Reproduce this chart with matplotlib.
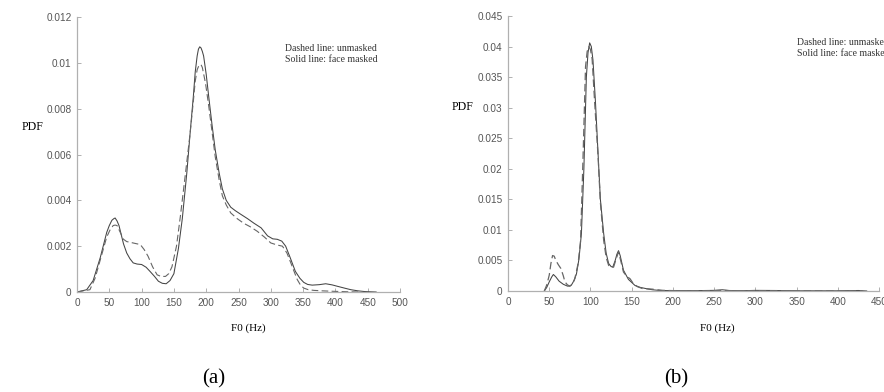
import numpy as np
import matplotlib.pyplot as plt

# (a) F0 distribution
a_solid_x = [0, 15, 25, 36, 46, 50, 54, 57, 59, 62, 65, 72, 77, 82, 87, 93, 100, 107, 113, 120, 126, 132, 138,
             144, 150, 157, 163, 170, 175, 180, 183, 186, 188, 190, 192, 194, 196, 200, 204, 209, 214, 220, 225,
             231, 238, 245, 253, 264, 274, 285, 295, 303, 310, 317, 323, 330, 338, 345, 351, 357, 364, 375, 385,
             395, 403, 414, 424, 435, 445, 463]
a_solid_y = [0, 0.0001, 0.0005, 0.0015, 0.0026, 0.0029, 0.00313, 0.0032, 0.00323, 0.0031, 0.0029, 0.0021,
             0.0017, 0.00145, 0.00127, 0.00122, 0.0012, 0.00108, 0.0009, 0.00068, 0.00047, 0.00038, 0.00036,
             0.0005, 0.0008, 0.0019, 0.0032, 0.0052, 0.0069, 0.0085, 0.0096, 0.0103, 0.0106, 0.0107, 0.01065,
             0.0105, 0.0103, 0.0095, 0.0085, 0.0073, 0.0062, 0.0052, 0.0045, 0.0040, 0.0037, 0.00355, 0.0034,
             0.0032, 0.0030, 0.0028, 0.00245, 0.00232, 0.0023, 0.00222, 0.0020, 0.0015, 0.0009, 0.0006, 0.00042,
             0.00033, 0.0003, 0.00032, 0.00036, 0.00031, 0.00025, 0.00017, 0.0001, 0.00005, 0.00002, 0]

a_dash_x = [0, 20, 28, 36, 46, 51, 56, 59, 62, 67, 72, 77, 82, 90, 98, 104, 110, 117, 124, 130, 137, 142, 147,
            154, 160, 168, 175, 180, 183, 186, 189, 192, 194, 199, 204, 209, 214, 220, 225, 231, 238, 248, 258,
            268, 279, 290, 300, 310, 318, 325, 331, 336, 341, 346, 351, 358, 367, 380, 397, 420, 440]
a_dash_y = [0, 0.0001, 0.0006, 0.0014, 0.0024, 0.0027, 0.0029, 0.00292, 0.0029, 0.0026, 0.0023, 0.0022,
            0.00217, 0.00212, 0.00207, 0.00185, 0.00156, 0.0011, 0.00075, 0.00068, 0.00068, 0.0008, 0.0011,
            0.0020, 0.0033, 0.0052, 0.0069, 0.0083, 0.0092, 0.0097, 0.0099, 0.00992, 0.0098, 0.0091, 0.0081,
            0.0070, 0.0059, 0.0049, 0.0042, 0.0038, 0.00345, 0.0032, 0.0030, 0.00285, 0.00265, 0.0024,
            0.00214, 0.00205, 0.0020, 0.0017, 0.00127, 0.0009, 0.00054, 0.0003, 0.00017, 0.0001, 0.00007,
            0.00005, 0.00003, 0.00001, 0]

# (b) F0 distribution
b_solid_x = [44, 47, 50, 53, 55, 58, 62, 67, 72, 75, 77, 80, 83, 86, 89, 92, 95, 97, 99, 101, 103, 106, 109,
             112, 116, 119, 122, 125, 127, 130, 132, 134, 136, 140, 146, 154, 160, 167, 175, 183, 200, 220, 240,
             250, 260, 270, 285, 300, 325, 350, 375, 400, 425, 435]
b_solid_y = [0, 0.0006, 0.0015, 0.0023, 0.0027, 0.0023, 0.0016, 0.0011, 0.0008, 0.0008, 0.0010, 0.0017,
             0.0028, 0.0052, 0.0094, 0.020, 0.035, 0.0390, 0.0406, 0.0400, 0.0378, 0.031, 0.023, 0.015, 0.0094,
             0.0062, 0.0045, 0.0040, 0.0039, 0.0050, 0.0060, 0.0066, 0.0058, 0.0034, 0.0019, 0.0009, 0.0006,
             0.0004, 0.0002, 0.0001, 0.00005, 0.00005, 0.00008, 0.0001, 0.0002, 0.00005, 0.00004, 0.0001,
             0.00008, 0.00003, 0.00003, 0.00003, 0.00008, 0]

b_dash_x = [44, 47, 50, 52, 54, 56, 58, 61, 64, 67, 69, 72, 75, 78, 81, 85, 88, 91, 94, 96, 98, 100, 102,
            105, 109, 112, 116, 119, 122, 125, 128, 131, 134, 137, 140, 144, 148, 152, 157, 163, 175, 187, 200,
            220, 240, 260, 280, 300, 325, 350, 400, 430]
b_dash_y = [0, 0.0010, 0.0026, 0.0045, 0.0058, 0.0057, 0.0050, 0.0043, 0.0037, 0.0025, 0.0015, 0.0010,
            0.0008, 0.0011, 0.0020, 0.0045, 0.0083, 0.022, 0.0367, 0.0392, 0.0400, 0.0395, 0.0380, 0.031,
            0.0225, 0.0145, 0.0083, 0.0055, 0.0042, 0.0039, 0.0039, 0.0052, 0.0064, 0.0048, 0.0031, 0.0024,
            0.0020, 0.0012, 0.0007, 0.0004, 0.0003, 0.0001, 0.00006, 0.00005, 0.00004, 0.00008, 0.00004,
            0.00003, 0.00004, 0.00002, 0.00002, 0]

a_xticks = np.arange(0, 501, 50)
a_yticks = [0, 0.002, 0.004, 0.006, 0.008, 0.01, 0.012]
a_ylabels = ["0", "0.002", "0.004", "0.006", "0.008", "0.01", "0.012"]
b_xticks = np.arange(0, 451, 50)
b_yticks = [0, 0.005, 0.01, 0.015, 0.02, 0.025, 0.03, 0.035, 0.04, 0.045]
b_ylabels = ["0", "0.005", "0.01", "0.015", "0.02", "0.025", "0.03", "0.035", "0.04", "0.045"]

legend_lines = "Dashed line: unmasked\nSolid line: face masked"

serif = "Liberation Serif"
sans = "Liberation Sans"

fig = plt.figure(figsize=(8.84, 3.92), dpi=100)


def style(ax, xmax, ymax, xt, yt, yl):
    ax.set_xlim(0, xmax)
    ax.set_ylim(0, ymax)
    ax.set_xticks(xt)
    ax.set_xticklabels([str(v) for v in xt])
    ax.set_yticks(yt)
    ax.set_yticklabels(yl)
    for s in ["top", "right"]:
        ax.spines[s].set_visible(False)
    for s in ["left", "bottom"]:
        ax.spines[s].set_color("#b0b0b0")
        ax.spines[s].set_linewidth(0.9)
    ax.tick_params(direction="in", length=3, width=0.7, color="#b0b0b0",
                   labelsize=7.2, labelcolor="#555555", pad=4)
    for lab in ax.get_xticklabels() + ax.get_yticklabels():
        lab.set_fontfamily(sans)


axa = fig.add_axes([0.0871, 0.2551, 0.3654, 0.7015])
axa.plot(a_solid_x, a_solid_y, color="#444444", lw=0.75)
axa.plot(a_dash_x, a_dash_y, color="#666666", lw=0.8, ls=(0, (6, 3)))
style(axa, 500, 0.012, a_xticks, a_yticks, a_ylabels)

axb = fig.add_axes([0.5747, 0.2577, 0.4197, 0.7015])
axb.plot(b_solid_x, b_solid_y, color="#444444", lw=0.75)
axb.plot(b_dash_x, b_dash_y, color="#666666", lw=0.9, ls=(0, (6, 3)))
style(axb, 450, 0.045, b_xticks, b_yticks, b_ylabels)

# axis titles and annotations as figure text
fig.text(22 / 884, 1 - 127 / 392, "PDF", family=serif, fontsize=8.5, ha="left", va="center")
fig.text(452 / 884, 1 - 107 / 392, "PDF", family=serif, fontsize=8.5, ha="left", va="center")
fig.text(248 / 884, 1 - 328 / 392, "F0 (Hz)", family=serif, fontsize=8, ha="center", va="center")
fig.text(717 / 884, 1 - 328 / 392, "F0 (Hz)", family=serif, fontsize=8, ha="center", va="center")
fig.text(285 / 884, 1 - 54 / 392, legend_lines, family=serif, fontsize=7, color="#333333",
         ha="left", va="center", linespacing=1.25)
fig.text(797 / 884, 1 - 48 / 392, legend_lines, family=serif, fontsize=7, color="#333333",
         ha="left", va="center", linespacing=1.25)
fig.text(214 / 884, 1 - 379 / 392, "(a)", family=serif, fontsize=15, ha="center", va="center")
fig.text(676 / 884, 1 - 379 / 392, "(b)", family=serif, fontsize=15, ha="center", va="center")

fig.savefig("out.png", dpi=100)
